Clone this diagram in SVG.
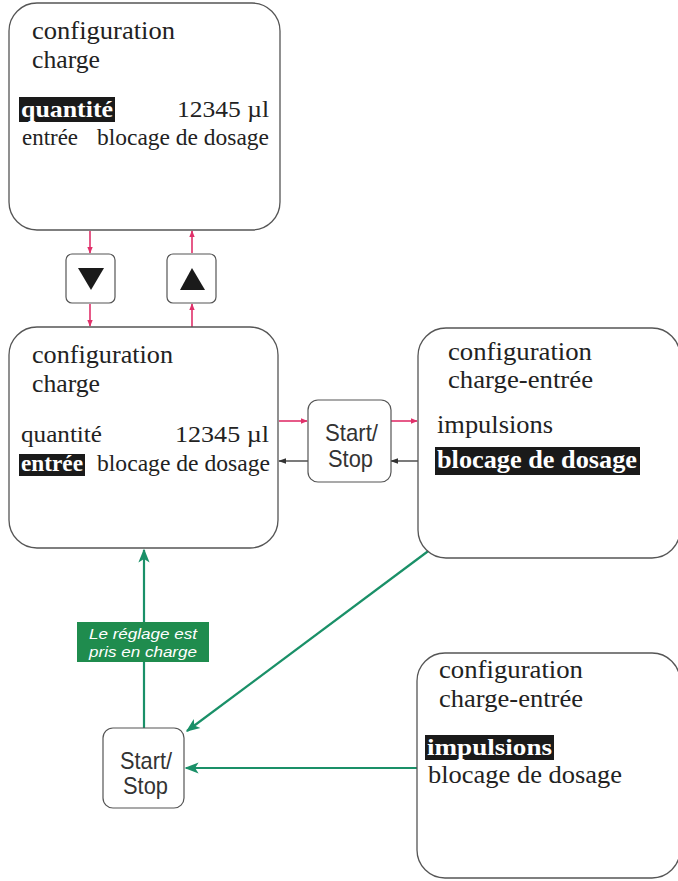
<svg xmlns="http://www.w3.org/2000/svg" width="678" height="881" viewBox="0 0 678 881">
<defs>
<style>
.box{fill:#fff;stroke:#555;stroke-width:1.3}
.btn{fill:#fff;stroke:#555;stroke-width:1.2}
.t{font-family:'Liberation Serif','Times New Roman',serif;font-size:24px;fill:#222}
.h{font-family:'Liberation Serif','Times New Roman',serif;font-size:26px;fill:#222}
.b{font-family:'Liberation Serif','Times New Roman',serif;font-size:24px;font-weight:bold;fill:#fff}
.hl{fill:#1a1a1a}
.s{font-family:'Liberation Sans',Arial,sans-serif;font-size:24px;fill:#333}
.red{stroke:#e0306a;stroke-width:1.6;fill:none}
.blk{stroke:#333;stroke-width:1.3;fill:none}
.grn{stroke:#1a9068;stroke-width:2.2;fill:none}
.lbl{font-family:'Liberation Sans',Arial,sans-serif;font-size:15px;font-style:italic;fill:#fff}
</style>
<marker id="mr" viewBox="0 0 10 10" refX="9" refY="5" markerWidth="7" markerHeight="7" orient="auto" markerUnits="userSpaceOnUse"><path d="M0,1 L10,5 L0,9 Z" fill="#e0306a"/></marker>
<marker id="mb" viewBox="0 0 10 10" refX="9" refY="5" markerWidth="8" markerHeight="8" orient="auto" markerUnits="userSpaceOnUse"><path d="M0,1.5 L10,5 L0,8.5 Z" fill="#333"/></marker>
<marker id="mg" viewBox="0 0 10 10" refX="9" refY="5" markerWidth="14" markerHeight="14" orient="auto" markerUnits="userSpaceOnUse"><path d="M0,1 L10,5 L0,9 L2.5,5 Z" fill="#1a9068"/></marker>
</defs>

<g id="connectors">
<line class="red" x1="90" y1="231" x2="90" y2="253" marker-end="url(#mr)"/>
<line class="red" x1="90" y1="304" x2="90" y2="326" marker-end="url(#mr)"/>
<line class="red" x1="192" y1="253" x2="192" y2="231" marker-end="url(#mr)"/>
<line class="red" x1="192" y1="327" x2="192" y2="304" marker-end="url(#mr)"/>
<line class="red" x1="279" y1="421" x2="307" y2="421" marker-end="url(#mr)"/>
<line class="red" x1="391" y1="421" x2="417" y2="421" marker-end="url(#mr)"/>
<line class="blk" x1="418" y1="461" x2="391" y2="461" marker-end="url(#mb)"/>
<line class="blk" x1="308" y1="461" x2="279" y2="461" marker-end="url(#mb)"/>
<line class="grn" x1="431" y1="549" x2="187" y2="731" marker-end="url(#mg)"/>
<line class="grn" x1="417" y1="768" x2="186" y2="768" marker-end="url(#mg)"/>
<line class="grn" x1="144" y1="728" x2="144" y2="550" marker-end="url(#mg)"/>
<g id="label">
<rect x="77" y="622" width="132" height="40" fill="#1f8c4e"/>
<text class="lbl" x="89" y="639" textLength="108" lengthAdjust="spacingAndGlyphs">Le réglage est</text>
<text class="lbl" x="89" y="657" textLength="108" lengthAdjust="spacingAndGlyphs">pris en charge</text>
</g>
</g>

<g id="box1">
<rect class="box" x="9" y="3" width="271" height="227" rx="28"/>
<text class="h" x="32" y="39" textLength="143" lengthAdjust="spacingAndGlyphs">configuration</text>
<text class="h" x="32" y="68" textLength="68" lengthAdjust="spacingAndGlyphs">charge</text>
<rect class="hl" x="19" y="97" width="96" height="25"/>
<text class="b" x="21" y="117" textLength="92" lengthAdjust="spacingAndGlyphs">quantité</text>
<text class="t" x="177" y="117" textLength="92" lengthAdjust="spacingAndGlyphs">12345 µl</text>
<text class="t" x="22" y="145" textLength="56" lengthAdjust="spacingAndGlyphs">entrée</text>
<text class="t" x="97" y="145" textLength="172" lengthAdjust="spacingAndGlyphs">blocage de dosage</text>
</g>

<g id="btn-down">
<rect class="btn" x="66" y="254" width="49" height="49" rx="6"/>
<path d="M78,268 L104,268 L91,290 Z" fill="#1a1a1a"/>
</g>
<g id="btn-up">
<rect class="btn" x="167" y="254" width="49" height="49" rx="6"/>
<path d="M180,290 L205,290 L192,268 Z" fill="#1a1a1a"/>
</g>

<g id="box2">
<rect class="box" x="9" y="327" width="269" height="221" rx="28"/>
<text class="h" x="32" y="363" textLength="141" lengthAdjust="spacingAndGlyphs">configuration</text>
<text class="h" x="32" y="392" textLength="68" lengthAdjust="spacingAndGlyphs">charge</text>
<text class="t" x="21" y="442" textLength="81" lengthAdjust="spacingAndGlyphs">quantité</text>
<text class="t" x="175" y="442" textLength="94" lengthAdjust="spacingAndGlyphs">12345 µl</text>
<rect class="hl" x="19" y="454" width="66" height="22"/>
<text class="b" x="21" y="471" textLength="62" lengthAdjust="spacingAndGlyphs">entrée</text>
<text class="t" x="97" y="471" textLength="173" lengthAdjust="spacingAndGlyphs">blocage de dosage</text>
</g>

<g id="startstop1">
<rect class="btn" x="308" y="400" width="83" height="82" rx="10"/>
<text class="s" x="325" y="441" textLength="53" lengthAdjust="spacingAndGlyphs">Start/</text>
<text class="s" x="328" y="467" textLength="45" lengthAdjust="spacingAndGlyphs">Stop</text>
</g>

<g id="box3">
<rect class="box" x="418" y="328" width="262" height="230" rx="28"/>
<text class="h" x="448" y="360" textLength="144" lengthAdjust="spacingAndGlyphs">configuration</text>
<text class="h" x="448" y="388" textLength="145" lengthAdjust="spacingAndGlyphs">charge-entrée</text>
<text class="h" x="437" y="433" textLength="116" lengthAdjust="spacingAndGlyphs">impulsions</text>
<rect class="hl" x="435" y="447" width="205" height="28"/>
<text class="b" x="437" y="468" textLength="200" lengthAdjust="spacingAndGlyphs" style="font-size:26px">blocage de dosage</text>
</g>

<g id="startstop2">
<rect class="btn" x="103" y="728" width="81" height="80" rx="10"/>
<text class="s" x="120" y="769" textLength="52" lengthAdjust="spacingAndGlyphs">Start/</text>
<text class="s" x="123" y="794" textLength="45" lengthAdjust="spacingAndGlyphs">Stop</text>
</g>

<g id="box4">
<rect class="box" x="417" y="653" width="263" height="225" rx="28"/>
<text class="h" x="439" y="678" textLength="144" lengthAdjust="spacingAndGlyphs">configuration</text>
<text class="h" x="439" y="707" textLength="144" lengthAdjust="spacingAndGlyphs">charge-entrée</text>
<rect class="hl" x="425" y="735" width="129" height="25"/>
<text class="b" x="427" y="755" textLength="125" lengthAdjust="spacingAndGlyphs">impulsions</text>
<text class="h" x="428" y="783" textLength="194" lengthAdjust="spacingAndGlyphs">blocage de dosage</text>
</g>
</svg>
